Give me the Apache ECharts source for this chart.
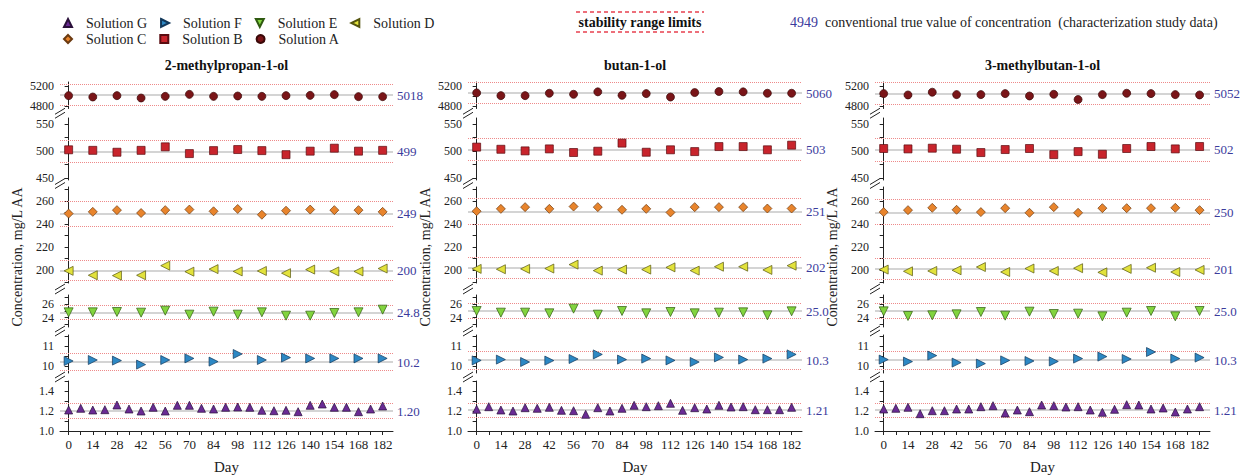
<!DOCTYPE html>
<html>
<head>
<meta charset="utf-8">
<title>Stability study</title>
<script src="https://cdn.jsdelivr.net/npm/echarts@6/dist/echarts.min.js"></script>
<style>
  html, body { margin: 0; background: #fff; }
  #chart { width: 1244px; height: 475px; }
</style>
</head>
<body>
<div id="chart"></div>
<script>
// ---- data ----
const days = [0, 14, 28, 42, 56, 70, 84, 98, 112, 126, 140, 154, 168, 182];
const daysG = [0, 7, 14, 21, 28, 35, 42, 49, 56, 63, 70, 77, 84, 91, 98, 105, 112, 119, 126, 133, 140, 147, 154, 161, 168, 175, 182];
const dayLabels = [0, 14, 28, 42, 56, 70, 84, 98, 112, 126, 140, 154, 168, 182];
const panelTitles = ['2-methylpropan-1-ol', 'butan-1-ol', '3-methylbutan-1-ol'];
const solutions = ['Solution A', 'Solution B', 'Solution C', 'Solution D', 'Solution E', 'Solution F', 'Solution G'];

// 2-methylpropan-1-ol
const mpA = [5007, 4980, 5007, 4960, 4993, 5033, 4993, 5000, 4993, 5007, 5013, 5027, 4987, 4987];
const mpB = [502, 501, 497.5, 501, 507.5, 495, 500.5, 502.5, 500.5, 493, 499.5, 505, 499.5, 501];
const mpC = [249, 250.5, 252, 249.5, 252, 252.5, 251, 253, 248, 251.5, 252.5, 252, 252, 250.5];
const mpD = [199.5, 195.7, 195.4, 195.7, 204, 198.8, 201, 199, 199.4, 197.5, 200.6, 199, 199, 201.5];
const mpE = [24.8, 24.8, 24.85, 24.75, 25.05, 24.45, 24.9, 24.45, 24.8, 24.3, 24.3, 24.7, 24.8, 25.2];
const mpF = [10.25, 10.3, 10.27, 10.07, 10.3, 10.38, 10.22, 10.6, 10.3, 10.42, 10.38, 10.38, 10.38, 10.38];
const mpG = [1.21, 1.227, 1.21, 1.213, 1.26, 1.22, 1.2, 1.237, 1.2, 1.257, 1.257, 1.227, 1.22, 1.237,
  1.24, 1.237, 1.207, 1.203, 1.207, 1.193, 1.257, 1.27, 1.237, 1.237, 1.193, 1.22, 1.25];
const mpTrue = [5018, 499, 249, 200, 24.8, 10.2, 1.20];
const mpLow = [4808, 478, 238, 191, 23.8, 9.77, 1.13];
const mpHigh = [5228, 520, 260, 209, 25.85, 10.65, 1.28];

// butan-1-ol
const buA = [5062, 5007, 5007, 5055, 5034, 5083, 5014, 5048, 4979, 5069, 5090, 5083, 5055, 5055];
const buB = [507, 503, 500, 503.7, 497, 499.4, 514.4, 497.5, 502, 498.7, 508, 508, 502, 510.6];
const buC = [251.1, 253.1, 254.6, 253.1, 255.1, 254.6, 252.3, 253.1, 250, 254.6, 254.6, 254.6, 253.4, 253.4];
const buD = [201.2, 200.9, 201.2, 201.5, 204.9, 199.7, 200.6, 200.6, 202.5, 199.7, 203.1, 203.1, 200.3, 204];
const buE = [25, 24.75, 24.75, 24.65, 25.35, 24.45, 25, 24.65, 24.85, 24.65, 24.75, 24.8, 24.35, 24.95];
const buF = [10.28, 10.32, 10.2, 10.27, 10.35, 10.58, 10.32, 10.37, 10.28, 10.2, 10.43, 10.32, 10.37, 10.58];
const buG = [1.217, 1.243, 1.21, 1.2, 1.233, 1.227, 1.237, 1.207, 1.203, 1.167, 1.233, 1.2, 1.227, 1.257,
  1.243, 1.253, 1.277, 1.207, 1.233, 1.22, 1.257, 1.24, 1.243, 1.213, 1.213, 1.213, 1.237];
const buTrue = [5060, 503, 251, 202, 25.0, 10.3, 1.21];
const buLow = [4846, 482, 240, 193, 23.9, 9.85, 1.14];
const buHigh = [5274, 524, 262, 211, 26.1, 10.75, 1.285];

// 3-methylbutan-1-ol
const mbA = [5048, 5021, 5076, 5028, 5028, 5048, 5000, 5034, 4931, 5028, 5055, 5048, 5028, 5021];
const mbB = [504.4, 503.7, 505, 503.1, 496.9, 502.5, 504.4, 493.1, 498.7, 493.7, 504.4, 508.1, 503.7, 508.1];
const mbC = [250.3, 252, 254, 252.3, 250.3, 253.7, 249.7, 254.6, 249.7, 253.7, 253.7, 253.7, 254, 252];
const mbD = [200.6, 199.1, 199.4, 200, 202.8, 198.5, 201.5, 199.4, 201.8, 198.2, 201.2, 202.2, 198.5, 200.3];
const mbE = [24.95, 24.25, 24.35, 24.5, 24.85, 24.3, 24.9, 24.55, 24.6, 24.2, 24.75, 25, 24.2, 25];
const mbF = [10.32, 10.22, 10.52, 10.17, 10.12, 10.28, 10.25, 10.23, 10.37, 10.47, 10.35, 10.7, 10.37, 10.42];
const mbG = [1.22, 1.227, 1.237, 1.173, 1.203, 1.203, 1.22, 1.22, 1.243, 1.253, 1.18, 1.21, 1.193, 1.26,
  1.253, 1.24, 1.243, 1.21, 1.187, 1.217, 1.263, 1.26, 1.22, 1.23, 1.19, 1.22, 1.243];
const mbTrue = [5052, 502, 250, 201, 25.0, 10.3, 1.21];
const mbLow = [4838, 481, 240, 192, 23.9, 9.85, 1.14];
const mbHigh = [5266, 523, 261, 210, 26.1, 10.75, 1.285];

// broken y axis: one segment per range
const segMin = [4750, 446, 189, 22.6, 9.65, 1.0];
const segMax = [5280, 561, 272, 27.4, 11.55, 1.5];
const segLabels = [[4800, 5200], [450, 500, 550], [200, 220, 240, 260], [24, 26], [10, 11], [1.0, 1.2, 1.4]];
const segTicks = [[4800, 5000, 5200], [450, 475, 500, 525, 550], [190, 200, 210, 220, 230, 240, 250, 260, 270],
  [23, 24, 25, 26, 27], [10, 10.5, 11, 11.5], [1.0, 1.1, 1.2, 1.3, 1.4, 1.5]];
const trueDecimals = [0, 0, 0, 0, 1, 1, 2];

// ---- layout / style ----
const FONT = 'Liberation Serif, Times New Roman, serif';
const panelLeft = [60, 468, 875];
const panelRight = [393, 802, 1210];
const segTop = [82, 118, 187, 295, 335, 381];
const segHeight = [26.5, 62, 96, 32, 38, 50];
const solSeg = [0, 1, 2, 2, 3, 4, 5];

const triUp = 'path://M5,0 L10,10 L0,10 Z';
const triDown = 'path://M0,0 L10,0 L5,10 Z';
const triLeft = 'path://M10,0 L10,10 L0,5 Z';
const triRight = 'path://M0,0 L10,5 L0,10 Z';

const markers = [
  { symbol: 'circle', size: 8, color: '#7a1518', border: '#3a0808' },
  { symbol: 'rect', size: 8, color: '#c8242c', border: '#5a0c10' },
  { symbol: 'diamond', size: 9, color: '#e8842c', border: '#6b3a10' },
  { symbol: triLeft, size: 9, color: '#e2e23c', border: '#55550f' },
  { symbol: triDown, size: 9, color: '#82d43e', border: '#2f5a10' },
  { symbol: triRight, size: 9, color: '#2d88c4', border: '#12385a' },
  { symbol: triUp, size: 8, color: '#6a2b94', border: '#2a103a' }
];

const panelData = [
  [mpA, mpB, mpC, mpD, mpE, mpF, mpG],
  [buA, buB, buC, buD, buE, buF, buG],
  [mbA, mbB, mbC, mbD, mbE, mbF, mbG]
];
const panelTrue = [mpTrue, buTrue, mbTrue];
const panelLow = [mpLow, buLow, mbLow];
const panelHigh = [mpHigh, buHigh, mbHigh];

const grid = [];
const xAxis = [];
const yAxis = [];
const series = [];
const graphic = [];

panelLeft.forEach((left, p) => {
  segTop.forEach((top, k) => {
    const last = k === segTop.length - 1;
    grid.push({ left: left, width: panelRight[p] - left, top: top, height: segHeight[k] });
    xAxis.push({
      type: 'value',
      gridIndex: grid.length - 1,
      min: -5,
      max: 188,
      show: last,
      name: 'Day',
      nameLocation: 'middle',
      nameGap: 28,
      nameTextStyle: { fontFamily: FONT, fontSize: 15, color: '#222' },
      axisLine: { lineStyle: { color: '#222', width: 1 } },
      axisTick: { length: 4, lineStyle: { color: '#222' }, customValues: daysG },
      axisLabel: { customValues: dayLabels, margin: 7, fontFamily: FONT, fontSize: 13, color: '#222' },
      splitLine: { show: false }
    });
    const dec = k === 5 ? 1 : 0;
    yAxis.push({
      type: 'value',
      gridIndex: grid.length - 1,
      min: segMin[k],
      max: segMax[k],
      axisLine: { show: true, lineStyle: { color: '#222', width: 1 } },
      axisTick: { show: true, length: 4, lineStyle: { color: '#222' }, customValues: segTicks[k] },
      axisLabel: {
        customValues: segLabels[k],
        margin: 6,
        fontFamily: FONT,
        fontSize: 12,
        color: '#222',
        formatter: v => Number(v).toFixed(dec)
      },
      splitLine: { show: false }
    });
  });

  // break marks between segments
  for (let k = 0; k < segTop.length - 1; k++) {
    const yMid = (segTop[k] + segHeight[k] + segTop[k + 1]) / 2;
    [-2, 2].forEach(off => {
      graphic.push({
        type: 'line',
        shape: { x1: left - 5, y1: yMid + off + 3, x2: left + 5, y2: yMid + off - 3 },
        style: { stroke: '#222', lineWidth: 1 },
        silent: true
      });
    });
  }

  graphic.push({
    type: 'text',
    x: (left + panelRight[p]) / 2,
    y: 65,
    style: {
      text: panelTitles[p], fontFamily: FONT, fontSize: 14, fontWeight: 'bold',
      fill: '#111', textAlign: 'center', textVerticalAlign: 'middle'
    }
  });
  graphic.push({
    type: 'text',
    x: left - 43,
    y: 257,
    rotation: Math.PI / 2,
    style: {
      text: 'Concentration, mg/L AA', fontFamily: FONT, fontSize: 14,
      fill: '#222', textAlign: 'center', textVerticalAlign: 'middle'
    }
  });

  panelData[p].forEach((vals, s) => {
    const g = p * segTop.length + solSeg[s];
    const xs = s === 6 ? daysG : days;
    const m = markers[s];
    const tv = panelTrue[p][s];
    series.push({
      name: solutions[s],
      type: 'scatter',
      xAxisIndex: g,
      yAxisIndex: g,
      z: 3,
      symbol: m.symbol,
      symbolSize: m.size,
      itemStyle: { color: m.color, borderColor: m.border, borderWidth: 0.7, opacity: 1 },
      data: xs.map((d, i) => [d, vals[i]]),
      markLine: {
        z: 1,
        silent: true,
        symbol: 'none',
        animation: false,
        data: [
          {
            yAxis: tv,
            lineStyle: { color: '#c6c6c6', width: 1.5, type: 'solid' },
            label: {
              show: true, position: 'end', distance: 4, formatter: tv.toFixed(trueDecimals[s]),
              color: '#3b3b9c', fontFamily: FONT, fontSize: 13
            }
          },
          { yAxis: panelLow[p][s], lineStyle: { color: '#ee8a8a', width: 1, type: 'dotted' }, label: { show: false } },
          { yAxis: panelHigh[p][s], lineStyle: { color: '#ee8a8a', width: 1, type: 'dotted' }, label: { show: false } }
        ]
      }
    });
  });
});

// stability limits key + true value key
graphic.push(
  {
    type: 'line', shape: { x1: 576, y1: 12, x2: 704, y2: 12 },
    style: { stroke: '#e8404f', lineWidth: 1.5, lineDash: [4, 3] }
  },
  {
    type: 'line', shape: { x1: 576, y1: 32, x2: 704, y2: 32 },
    style: { stroke: '#e8404f', lineWidth: 1.5, lineDash: [4, 3] }
  },
  {
    type: 'text', x: 640, y: 22,
    style: {
      text: 'stability range limits', fontFamily: FONT, fontSize: 14, fontWeight: 'bold',
      fill: '#111', textAlign: 'center', textVerticalAlign: 'middle'
    }
  },
  {
    type: 'text', x: 790, y: 22,
    style: {
      text: '{b|4949}  conventional true value of concentration  (characterization study data)',
      fontFamily: FONT, fontSize: 14, fill: '#222', textVerticalAlign: 'middle',
      rich: { b: { fill: '#3b3b9c', fontFamily: FONT, fontSize: 14 } }
    }
  }
);

const legendBase = {
  left: 58,
  orient: 'horizontal',
  itemWidth: 8,
  itemHeight: 8,
  itemGap: 13,
  selectedMode: false,
  textStyle: { fontFamily: FONT, fontSize: 14, color: '#222', width: 62, padding: [0, 0, 0, 9] }
};

const myChart = echarts.init(document.querySelector('#chart'), null, { renderer: 'svg' });

const option = {
  animation: false,
  backgroundColor: '#fff',
  legend: [
    Object.assign({}, legendBase, {
      top: 11,
      data: [
        { name: 'Solution G', icon: triUp },
        { name: 'Solution F', icon: triRight },
        { name: 'Solution E', icon: triDown },
        { name: 'Solution D', icon: triLeft }
      ]
    }),
    Object.assign({}, legendBase, {
      top: 27,
      data: [
        { name: 'Solution C', icon: 'diamond' },
        { name: 'Solution B', icon: 'rect' },
        { name: 'Solution A', icon: 'circle' }
      ]
    })
  ],
  grid: grid,
  xAxis: xAxis,
  yAxis: yAxis,
  series: series,
  graphic: graphic
};

myChart.setOption(option);

window.addEventListener('resize', function() {
  myChart.resize();
});
</script>
</body>
</html>
